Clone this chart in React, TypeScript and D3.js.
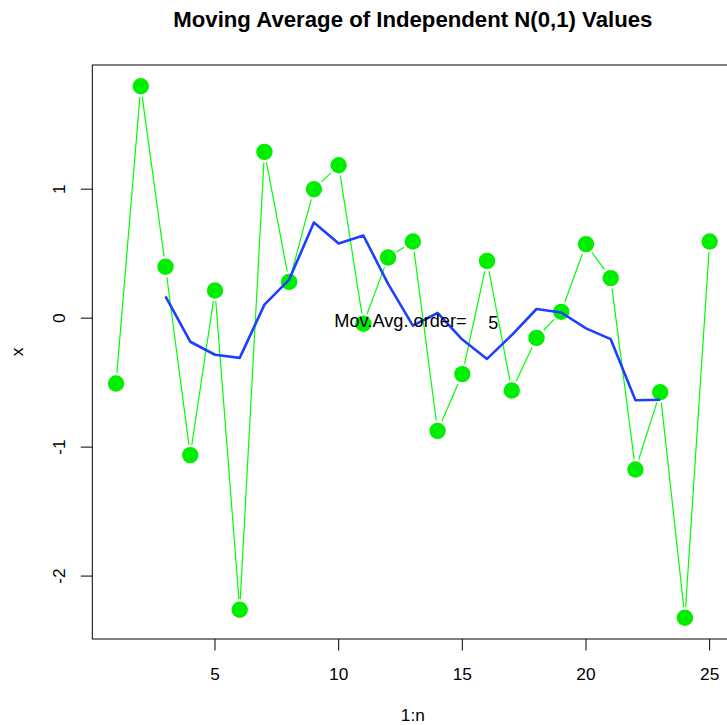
import React from "react";
import * as d3 from "d3";

// Series of 25 independent N(0,1) draws
const values: number[] = [
  -0.507, 1.798, 0.398, -1.062, 0.214, -2.261, 1.289, 0.281, 1.0, 1.185,
  -0.044, 0.47, 0.594, -0.874, -0.434, 0.444, -0.561, -0.153, 0.049, 0.574,
  0.31, -1.174, -0.574, -2.323, 0.594,
];

// Centred moving average of order 5 (defined for indices 3..23)
const maIndex: number[] = [
  3, 4, 5, 6, 7, 8, 9, 10, 11, 12, 13, 14, 15, 16, 17, 18, 19, 20, 21, 22, 23,
];
const maValues: number[] = [
  0.168, -0.183, -0.284, -0.308, 0.105, 0.299, 0.742, 0.578, 0.641, 0.266,
  -0.058, 0.04, -0.166, -0.316, -0.131, 0.071, 0.044, -0.079, -0.163, -0.637,
  -0.633,
];

const xTicks: number[] = [5, 10, 15, 20, 25];
const yTicks: number[] = [-2, -1, 0, 1];

const title = "Moving Average of Independent N(0,1) Values";
const xLabel = "1:n";
const yLabel = "x";
const noteText = "Mov.Avg. order=";
const orderText = "5";

const W = 727;
const H = 725;
const left = 92.3;
const right = 733.4;
const top = 65;
const bottom = 639;
const FONT = "'Liberation Sans', Arial, Helvetica, sans-serif";

export default function App() {
  const idx = values.map((_, i) => i + 1);
  const [xmin, xmax] = d3.extent(idx) as [number, number];
  const [ymin, ymax] = d3.extent(values) as [number, number];
  const xp = (xmax - xmin) * 0.04;
  const yp = (ymax - ymin) * 0.04;
  const x = d3.scaleLinear().domain([xmin - xp, xmax + xp]).range([left, right]);
  const y = d3.scaleLinear().domain([ymin - yp, ymax + yp]).range([bottom, top]);

  const pts = values.map((v, i) => [x(i + 1), y(v)] as [number, number]);

  // "b"-style connecting segments that stop short of each point
  const gap = 10.5;
  const segs: string[] = [];
  for (let i = 0; i < pts.length - 1; i++) {
    const [x0, y0] = pts[i];
    const [x1, y1] = pts[i + 1];
    const dx = x1 - x0;
    const dy = y1 - y0;
    const len = Math.hypot(dx, dy);
    if (len <= 2 * gap) continue;
    const ux = dx / len;
    const uy = dy / len;
    segs.push(
      `M${x0 + ux * gap},${y0 + uy * gap}L${x1 - ux * gap},${y1 - uy * gap}`
    );
  }

  const maLine = d3
    .line<number>()
    .x((_, i) => x(maIndex[i]))
    .y((d) => y(d))(maValues) as string;

  const tick = 11.5;
  const axisFs = 17.3;

  return (
    <svg
      width={W}
      height={H}
      style={{ position: "absolute", left: 0, top: 0, background: "#fff" }}
      fontFamily={FONT}
    >
      <rect x={0} y={0} width={W} height={H} fill="#fff" />
      <text
        x={(left + right) / 2}
        y={27}
        textAnchor="middle"
        fontWeight="bold"
        fontSize={22.2}
        fill="#000"
      >
        {title}
      </text>

      {/* plot box */}
      <rect
        x={left}
        y={top}
        width={right - left}
        height={bottom - top}
        fill="none"
        stroke="#000"
        strokeWidth={1}
      />

      {/* x axis */}
      {xTicks.map((t) => (
        <g key={"x" + t}>
          <line x1={x(t)} x2={x(t)} y1={bottom} y2={bottom + tick} stroke="#000" />
          <text x={x(t)} y={680} textAnchor="middle" fontSize={axisFs} fill="#000">
            {t}
          </text>
        </g>
      ))}
      <text x={(left + right) / 2} y={721} textAnchor="middle" fontSize={axisFs} fill="#000">
        {xLabel}
      </text>

      {/* y axis */}
      {yTicks.map((t) => (
        <g key={"y" + t}>
          <line x1={left - tick} x2={left} y1={y(t)} y2={y(t)} stroke="#000" />
          <text
            transform={`translate(65,${y(t)}) rotate(-90)`}
            textAnchor="middle"
            fontSize={axisFs}
            fill="#000"
          >
            {t}
          </text>
        </g>
      ))}
      <text
        transform={`translate(22.5,${(top + bottom) / 2}) rotate(-90)`}
        textAnchor="middle"
        fontSize={axisFs}
        fill="#000"
      >
        {yLabel}
      </text>

      {/* data series */}
      <path d={segs.join("")} fill="none" stroke="#00ff00" strokeWidth={1.2} />
      {pts.map(([px, py], i) => (
        <circle key={i} cx={px} cy={py} r={8.2} fill="#00ee00" />
      ))}

      {/* moving average */}
      <path d={maLine} fill="none" stroke="#1f3fff" strokeWidth={2.6} strokeLinejoin="round" />

      <text x={x(12.5)} y={y(0) + 9} textAnchor="middle" fontSize={18.2} fill="#000">
        {noteText}
      </text>
      <text x={x(16.25)} y={y(0) + 11} textAnchor="middle" fontSize={18} fill="#000">
        {orderText}
      </text>
    </svg>
  );
}
